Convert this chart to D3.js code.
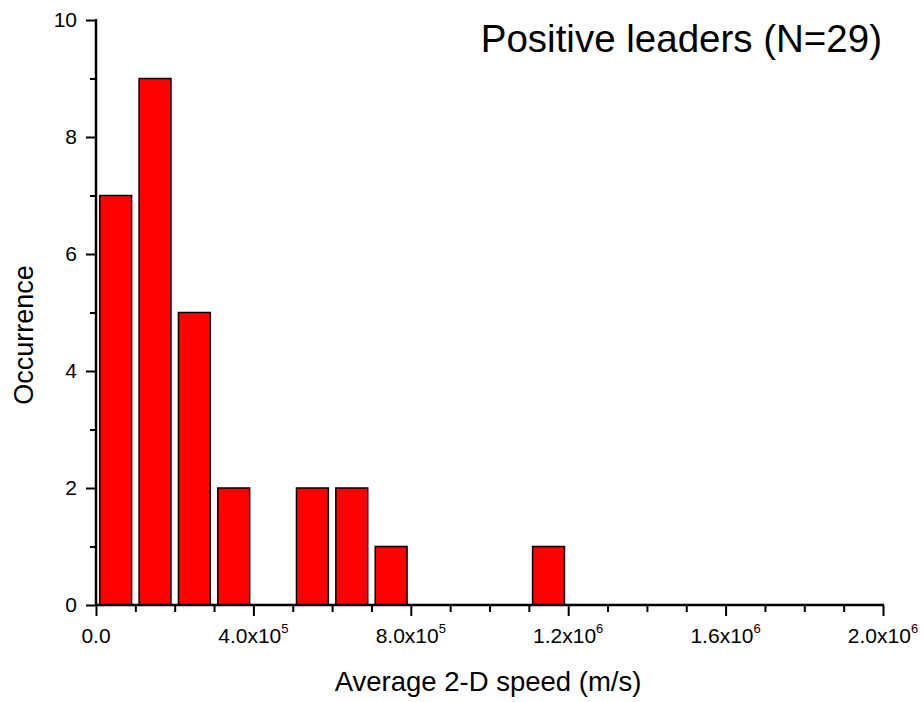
<!DOCTYPE html>
<html>
<head>
<meta charset="utf-8">
<script src="https://cdn.jsdelivr.net/npm/d3@7"></script>
<style>
  body { margin: 0; background: #fff; }
  svg text { font-family: Arial, "Liberation Sans", sans-serif; fill: #000; }
</style>
</head>
<body>
<svg id="chart" width="924" height="702"></svg>
<script>
// Histogram bins (start of bin, m/s) and counts
const binStarts = [0, 100000, 200000, 300000, 400000, 500000, 600000, 700000, 800000, 900000, 1000000, 1100000];
const counts    = [7, 9, 5, 2, 0, 2, 2, 1, 0, 0, 0, 1];
const binWidth = 100000;
const xMajorTicks = [0, 400000, 800000, 1200000, 1600000, 2000000];
const xTickMant = ["0.0", "4.0x10", "8.0x10", "1.2x10", "1.6x10", "2.0x10"];
const xTickExp  = ["", "5", "5", "6", "6", "6"];
const yMajorTicks = [0, 2, 4, 6, 8, 10];
const titleText = "Positive leaders (N=29)";
const xTitle = "Average 2-D speed (m/s)";
const yTitle = "Occurrence";

const svg = d3.select("#chart");
const x = d3.scaleLinear().domain([0, 2000000]).range([96, 883]);
const y = d3.scaleLinear().domain([0, 10]).range([605, 20]);

// Bars
const data = binStarts.map((s, i) => ({s, c: counts[i]})).filter(d => d.c > 0);
const bw = (x(binWidth) - x(0)) * 0.81;
svg.append("g").selectAll("rect").data(data).join("rect")
  .attr("x", d => x(d.s + binWidth / 2) - bw / 2)
  .attr("y", d => y(d.c))
  .attr("width", bw)
  .attr("height", d => y(0) - y(d.c))
  .attr("fill", "#ff0000")
  .attr("stroke", "#000")
  .attr("stroke-width", 1.5);

// X axis
const xMinor = d3.range(0, 2000001, 100000).filter(v => !xMajorTicks.includes(v));
const gx = svg.append("g").attr("transform", "translate(0,605)");
gx.call(d3.axisBottom(x).tickValues(xMajorTicks).tickSize(11).tickFormat(""));
gx.call(g => g.select(".domain").remove());
gx.append("g").call(d3.axisBottom(x).tickValues(xMinor).tickSize(7).tickFormat(""))
  .call(g => g.select(".domain").remove());
gx.append("line").attr("x1", x(0) - 1).attr("x2", x(2000000) + 1).attr("stroke", "#000").attr("stroke-width", 2.5);
gx.selectAll("line").attr("stroke", "#000").attr("stroke-width", 2.5);
gx.selectAll(".tick line").attr("stroke-width", 2);

// X tick labels with superscript exponents
xMajorTicks.forEach((v, i) => {
  const t = svg.append("text")
    .attr("x", x(v))
    .attr("y", 643)
    .attr("text-anchor", "middle")
    .style("font-size", "21px");
  t.append("tspan").text(xTickMant[i]);
  if (xTickExp[i]) {
    t.append("tspan").attr("dy", -10).style("font-size", "13px").text(xTickExp[i]);
  }
});

// Y axis
const yMinor = [1, 3, 5, 7, 9];
const gy = svg.append("g").attr("transform", "translate(96,0)");
gy.call(d3.axisLeft(y).tickValues(yMajorTicks).tickSize(10).tickPadding(9).tickFormat(d3.format("d")));
gy.call(g => g.select(".domain").remove());
gy.append("g").call(d3.axisLeft(y).tickValues(yMinor).tickSize(6).tickFormat(""))
  .call(g => g.select(".domain").remove());
gy.append("line").attr("y1", y(10) - 1).attr("y2", y(0) + 1).attr("stroke", "#000").attr("stroke-width", 2.5);
gy.selectAll(".tick line").attr("stroke", "#000").attr("stroke-width", 2);
gy.selectAll(".tick text").style("font-size", "21px").attr("fill", "#000")
  .style("font-family", "Arial, 'Liberation Sans', sans-serif");

// Titles
svg.append("text").attr("x", 882).attr("y", 52).attr("text-anchor", "end")
  .style("font-size", "38.5px").text(titleText);
svg.append("text").attr("x", 488).attr("y", 691).attr("text-anchor", "middle")
  .style("font-size", "27.5px").text(xTitle);
svg.append("text").attr("transform", "translate(33,335) rotate(-90)").attr("text-anchor", "middle")
  .style("font-size", "27px").text(yTitle);
</script>
</body>
</html>
